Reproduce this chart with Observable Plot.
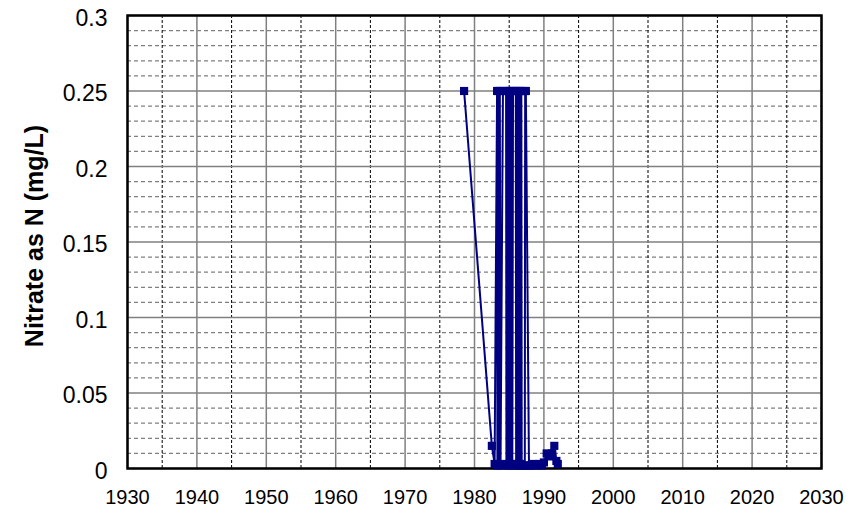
<!DOCTYPE html>
<html>
<head>
<meta charset="utf-8">
<script src="https://cdn.jsdelivr.net/npm/d3@7"></script>
<script src="https://cdn.jsdelivr.net/npm/@observablehq/plot@0.6"></script>
<style>
  html, body { margin: 0; padding: 0; background: #fff; }
  #chart { width: 865px; height: 516px; }
</style>
</head>
<body>
<div id="chart"></div>
<script>
const years = [1978.5, 1982.5, 1982.9, 1983.25, 1983.3, 1983.45, 1983.5, 1983.65, 1983.75, 1984.1, 1984.55, 1984.6, 1984.75, 1984.8, 1984.95, 1985.0, 1985.15, 1985.2, 1985.35, 1985.45, 1985.55, 1985.95, 1986.0, 1986.15, 1986.2, 1986.35, 1986.4, 1986.55, 1986.6, 1986.75, 1986.8, 1987.25, 1987.3, 1987.4, 1987.85, 1988.1, 1988.5, 1988.9, 1989.3, 1989.7, 1990.0, 1990.4, 1990.8, 1991.2, 1991.5, 1991.8, 1992.0];
const nitrate = [0.25, 0.015, 0.003, 0.25, 0.002, 0.25, 0.003, 0.25, 0.002, 0.25, 0.25, 0.003, 0.25, 0.002, 0.25, 0.003, 0.25, 0.002, 0.25, 0.003, 0.25, 0.25, 0.002, 0.25, 0.003, 0.25, 0.002, 0.25, 0.003, 0.25, 0.002, 0.002, 0.25, 0.25, 0.002, 0.002, 0.003, 0.002, 0.003, 0.002, 0.004, 0.01, 0.008, 0.01, 0.015, 0.005, 0.003];
const xTicks = [1930, 1940, 1950, 1960, 1970, 1980, 1990, 2000, 2010, 2020, 2030];
const yTicks = [0, 0.05, 0.1, 0.15, 0.2, 0.25, 0.3];
const xMinor = [1935, 1945, 1955, 1965, 1975, 1985, 1995, 2005, 2015, 2025];
const yMinor = [0.01, 0.02, 0.03, 0.04, 0.06, 0.07, 0.08, 0.09, 0.11, 0.12, 0.13, 0.14, 0.16, 0.17, 0.18, 0.19, 0.21, 0.22, 0.23, 0.24, 0.26, 0.27, 0.28, 0.29];
const yLabel = "Nitrate as N (mg/L)";

const data = years.map((y, i) => ({year: y, value: nitrate[i]}));

const chart = Plot.plot({
  width: 865,
  height: 516,
  marginLeft: 127,
  marginRight: 44,
  marginTop: 15,
  marginBottom: 48,
  style: {fontFamily: "Arial, 'Liberation Sans', sans-serif", background: "#fff", color: "#000"},
  x: {domain: [1930, 2030], ticks: xTicks, tickFormat: d => String(d), label: null},
  y: {domain: [0, 0.3], ticks: yTicks, tickFormat: d => String(d), label: null},
  marks: [
    Plot.ruleY(yMinor, {stroke: "#808080", strokeWidth: 1.2, strokeDasharray: "4,3"}),
    Plot.ruleX(xMinor, {stroke: "#000", strokeWidth: 1, strokeDasharray: "3,2"}),
    Plot.ruleY(yTicks, {stroke: "#808080", strokeWidth: 1.5}),
    Plot.ruleX(xTicks, {stroke: "#808080", strokeWidth: 1.5}),
    Plot.axisX({ticks: xTicks, tickSize: 0, tickPadding: 21, fontSize: 20, tickFormat: d => String(d), label: null}),
    Plot.axisY({ticks: yTicks, tickSize: 0, tickPadding: 20, fontSize: 23, tickFormat: d => String(d), label: null, dy: 3}),
    Plot.frame({stroke: "#000", strokeWidth: 2.5}),
    Plot.line(data, {x: "year", y: "value", stroke: "#000080", strokeWidth: 2}),
    Plot.dot(data, {x: "year", y: "value", symbol: "square", fill: "#000080", r: 4.6, stroke: null})
  ]
});

const svg = d3.select(chart);
svg.append("text")
  .attr("transform", "translate(36,236) rotate(-90)")
  .attr("text-anchor", "middle")
  .attr("dominant-baseline", "middle")
  .style("font-family", "Arial, 'Liberation Sans', sans-serif")
  .style("font-weight", "bold")
  .style("font-size", "25px")
  .text(yLabel);

document.getElementById("chart").appendChild(chart);
</script>
</body>
</html>
